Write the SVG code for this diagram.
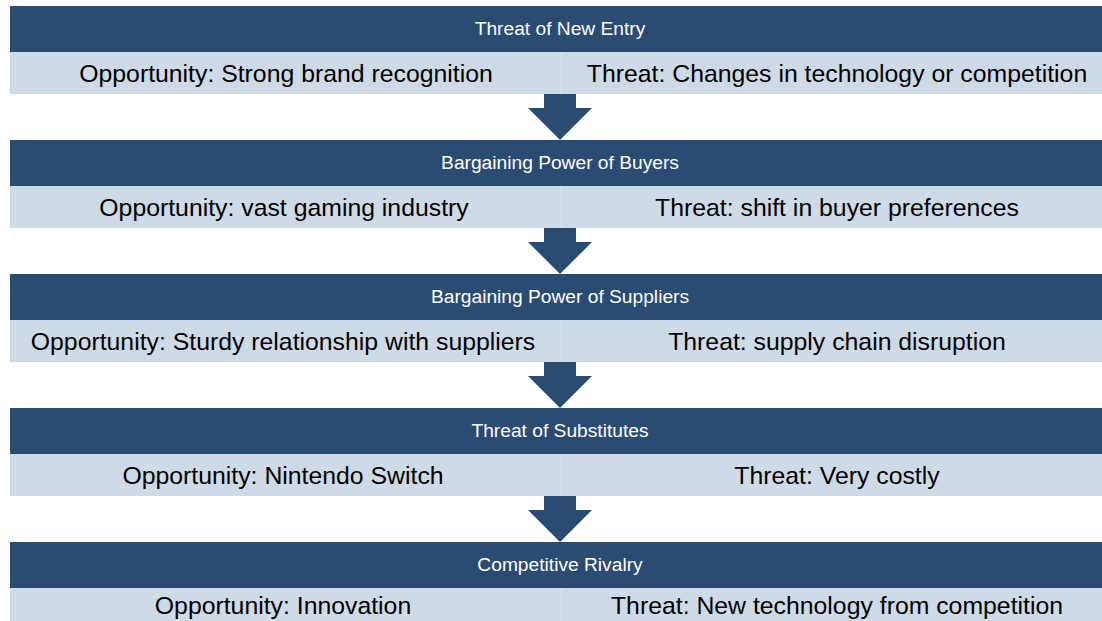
<svg xmlns="http://www.w3.org/2000/svg" width="1102" height="621" viewBox="0 0 1102 621">
  <style>
    .hdr { fill: #2a4b72; }
    .band { fill: #cedbe7; }
    .div { stroke: #dbe4ee; stroke-width: 1; }
    .htxt { font-family: "Liberation Sans", Arial, sans-serif; font-size: 19.2px; fill: #ffffff; text-anchor: middle; }
    .btxt { font-family: "Liberation Sans", Arial, sans-serif; font-size: 24.8px; fill: #000000; text-anchor: middle; }
    .arrow { fill: #2a4b72; }
  </style>

  <!-- Stage 1 -->
  <g id="new-entry">
    <rect class="hdr" x="10" y="6" width="1100" height="46"/>
    <rect class="band" x="10" y="52" width="1100" height="42"/>
    <line class="div" x1="561" y1="52" x2="561" y2="94"/>
    <text class="htxt" x="560" y="35">Threat of New Entry</text>
    <text class="btxt" x="286" y="82">Opportunity: Strong brand recognition</text>
    <text class="btxt" x="837" y="82">Threat: Changes in technology or competition</text>
  </g>

  <!-- Stage 2 -->
  <g id="buyers">
    <rect class="hdr" x="10" y="140" width="1100" height="46"/>
    <rect class="band" x="10" y="186" width="1100" height="42"/>
    <line class="div" x1="561" y1="186" x2="561" y2="228"/>
    <text class="htxt" x="560" y="169">Bargaining Power of Buyers</text>
    <text class="btxt" x="284" y="216">Opportunity: vast gaming industry</text>
    <text class="btxt" x="837" y="216">Threat: shift in buyer preferences</text>
  </g>

  <!-- Stage 3 -->
  <g id="suppliers">
    <rect class="hdr" x="10" y="274" width="1100" height="46"/>
    <rect class="band" x="10" y="320" width="1100" height="42"/>
    <line class="div" x1="561" y1="320" x2="561" y2="362"/>
    <text class="htxt" x="560" y="303">Bargaining Power of Suppliers</text>
    <text class="btxt" x="283" y="350">Opportunity: Sturdy relationship with suppliers</text>
    <text class="btxt" x="837" y="350">Threat: supply chain disruption</text>
  </g>

  <!-- Stage 4 -->
  <g id="substitutes">
    <rect class="hdr" x="10" y="408" width="1100" height="46"/>
    <rect class="band" x="10" y="454" width="1100" height="42"/>
    <line class="div" x1="561" y1="454" x2="561" y2="496"/>
    <text class="htxt" x="560" y="437">Threat of Substitutes</text>
    <text class="btxt" x="283" y="484">Opportunity: Nintendo Switch</text>
    <text class="btxt" x="837" y="484">Threat: Very costly</text>
  </g>

  <!-- Stage 5 -->
  <g id="rivalry">
    <rect class="hdr" x="10" y="542" width="1100" height="46"/>
    <rect class="band" x="10" y="588" width="1100" height="42"/>
    <line class="div" x1="561" y1="588" x2="561" y2="630"/>
    <text class="htxt" x="560" y="571">Competitive Rivalry</text>
    <text class="btxt" x="283" y="614">Opportunity: Innovation</text>
    <text class="btxt" x="837" y="614">Threat: New technology from competition</text>
  </g>

  <!-- Down arrows between stages -->
  <g id="connectors">
    <polygon class="arrow" points="544,94 576,94 576,108 592,108 560,140 528,108 544,108"/>
    <polygon class="arrow" points="544,228 576,228 576,242 592,242 560,274 528,242 544,242"/>
    <polygon class="arrow" points="544,362 576,362 576,376 592,376 560,408 528,376 544,376"/>
    <polygon class="arrow" points="544,496 576,496 576,510 592,510 560,542 528,510 544,510"/>
  </g>
</svg>
